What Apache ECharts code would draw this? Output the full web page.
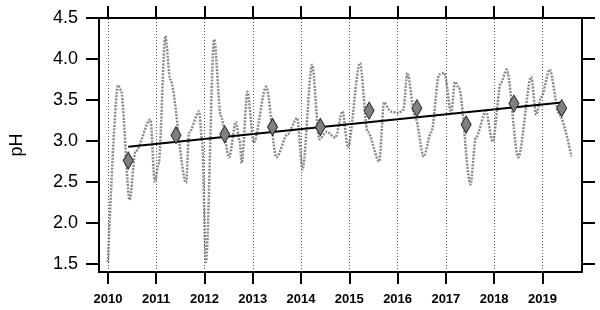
<!DOCTYPE html>
<html><head><meta charset="utf-8">
<script src="https://cdn.jsdelivr.net/npm/echarts@6/dist/echarts.min.js"></script>
<style>html,body{margin:0;padding:0;background:#fff}#c{width:600px;height:310px}</style>
</head><body><div id="c"></div>
<script>
// Monthly pH series (decimal year, pH)
var seriesYears = [2010.00,2010.21,2010.27,2010.45,2010.57,2010.88,2010.97,2011.05,2011.19,2011.29,2011.62,2011.68,2011.89,2011.95,2012.03,2012.20,2012.34,2012.51,2012.65,2012.73,2012.77,2012.89,2013.02,2013.28,2013.49,2013.72,2013.92,2014.03,2014.23,2014.38,2014.53,2014.71,2014.86,2014.97,2015.22,2015.38,2015.62,2015.72,2015.86,2016.02,2016.12,2016.20,2016.37,2016.54,2016.70,2016.86,2016.97,2017.11,2017.19,2017.27,2017.51,2017.62,2017.83,2017.97,2018.14,2018.26,2018.50,2018.77,2018.87,2018.98,2019.15,2019.35,2019.60];
var seriesPH    = [1.52,3.68,3.62,2.28,2.87,3.26,2.50,2.72,4.28,3.75,2.49,3.10,3.36,3.00,1.52,4.24,3.30,2.80,3.23,3.00,2.73,3.60,2.98,3.66,2.80,3.08,3.28,2.65,3.93,3.02,3.11,3.04,3.36,2.92,3.95,3.11,2.75,3.47,3.36,3.34,3.38,3.83,3.28,2.81,3.11,3.81,3.83,3.34,3.72,3.65,2.47,3.04,3.36,2.99,3.71,3.87,2.80,3.78,3.32,3.54,3.87,3.32,2.81];
// Annual means
var annualYears = [2010.42,2011.41,2012.42,2013.41,2014.40,2015.41,2016.40,2017.42,2018.41,2019.40];
var annualPH    = [2.76,3.07,3.08,3.17,3.17,3.37,3.40,3.20,3.455,3.40];
// Trend line
var trendYears = [2010.42,2019.40];
var trendPH    = [2.93,3.47];
// Axis ticks
var yearTicks = [2010,2011,2012,2013,2014,2015,2016,2017,2018,2019];
var phTicks   = [1.5,2.0,2.5,3.0,3.5,4.0,4.5];

function pairs(xs, ys){ return xs.map(function(x,i){ return [x, ys[i]]; }); }

var chart = echarts.init(document.getElementById('c'), null, {renderer:'canvas'});
var axisLineStyle = {color:'#000', width:2};
var xBase = {
  type:'value', min:2009.815, max:2019.82,
  axisLine:{show:true, onZero:false, lineStyle:axisLineStyle},
  axisTick:{show:true, inside:false, length:12, lineStyle:{color:'#000', width:2}, customValues:yearTicks},
  splitLine:{show:false}
};
var yBase = {
  type:'value', min:1.4, max:4.5,
  axisLine:{show:true, onZero:false, lineStyle:axisLineStyle},
  axisTick:{show:true, inside:false, length:13, lineStyle:{color:'#000', width:2}, customValues:phTicks},
  splitLine:{show:false}
};
chart.setOption({
  animation:false,
  backgroundColor:'#fff',
  grid:{left:95, top:18, width:487, height:254},
  xAxis:[
    Object.assign({}, xBase, {position:'bottom',
      axisLabel:{show:true, customValues:yearTicks, margin:21, fontFamily:'Liberation Sans, Arial', fontWeight:'bold', fontSize:13, color:'#000', formatter:function(v){return String(Math.round(v));}}}),
    Object.assign({}, xBase, {position:'top', axisLabel:{show:false}})
  ],
  yAxis:[
    Object.assign({}, yBase, {position:'left', name:'pH', nameLocation:'middle', nameRotate:90, nameGap:73,
      nameTextStyle:{fontFamily:'Liberation Sans, Arial', fontSize:18, color:'#000'},
      axisLabel:{show:true, customValues:phTicks, margin:21, fontFamily:'Liberation Sans, Arial', fontSize:18, color:'#000', formatter:function(v){return v.toFixed(1);}}}),
    Object.assign({}, yBase, {position:'right', axisLabel:{show:false}})
  ],
  series:[
    {type:'line', xAxisIndex:0, yAxisIndex:0, data:[], silent:true,
     markLine:{silent:true, symbol:'none', label:{show:false},
       lineStyle:{color:'#555', width:1, type:[1,2]},
       data: yearTicks.map(function(y){ return {xAxis:y}; })}},
    {type:'line', xAxisIndex:0, yAxisIndex:0, data:pairs(seriesYears, seriesPH), showSymbol:false, smooth:0.3, smoothMonotone:'x',
     lineStyle:{color:'#8a8a8a', width:2.5, type:[2,1.3]}, z:2},
    {type:'line', xAxisIndex:0, yAxisIndex:0, data:pairs(trendYears, trendPH), showSymbol:false,
     lineStyle:{color:'#000', width:2}, z:3},
    {type:'scatter', xAxisIndex:0, yAxisIndex:0, data:pairs(annualYears, annualPH), symbol:'diamond', symbolSize:[10,17],
     itemStyle:{color:'#808080', borderColor:'#222', borderWidth:1, opacity:1}, z:4}
  ]
});
</script></body></html>
